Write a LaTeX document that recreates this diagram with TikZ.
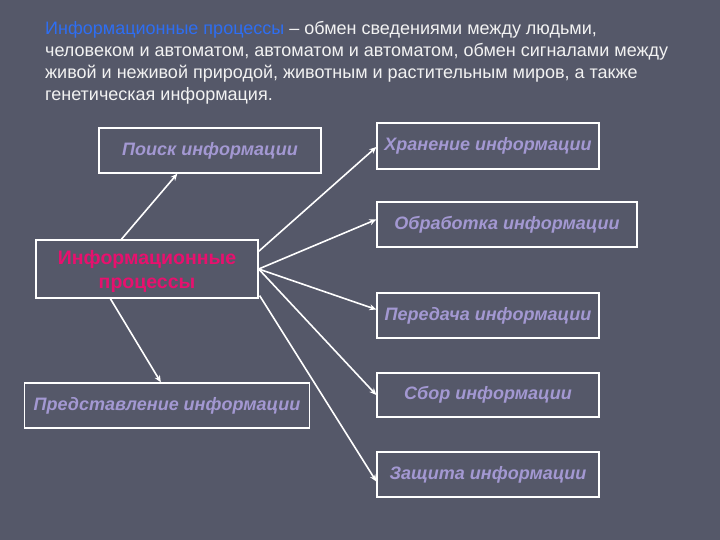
\documentclass[tikz,border=0pt]{standalone}
\usepackage{fontspec}
\setmainfont{Liberation Sans}
\usetikzlibrary{arrows.meta,calc}
\definecolor{bg}{HTML}{555869}
\definecolor{boxtext}{HTML}{A398D2}
\definecolor{titleblue}{HTML}{2E6EF2}
\definecolor{mag}{HTML}{E8106E}
\definecolor{titlewhite}{HTML}{F2F2F2}
\begin{document}
\begin{tikzpicture}[x=1pt,y=-1pt,
  infobox/.style={draw=white, line width=1.3pt, rectangle, inner sep=0pt,
    minimum height=45pt, minimum width=222pt, text=boxtext,
    font=\fontsize{18}{20}\selectfont\bfseries\itshape},
  centerbox/.style={draw=white, line width=1.3pt, rectangle, inner sep=0pt,
    minimum height=58pt, minimum width=222pt},
  centertext/.style={inner sep=0pt, text=mag, align=center,
    font=\fontsize{19.5}{24}\selectfont\bfseries},
  conn/.style={draw=white, line width=1.6pt, -{Stealth[length=7pt,width=6pt]}}]
\fill[bg] (0,0) rectangle (720,540);
\useasboundingbox (0,0) rectangle (720,540);

\node[anchor=north west, inner sep=0pt, align=left, text=titlewhite,
  font=\fontsize{18}{22}\selectfont] (title) at (45,21)
  {\textcolor{titleblue}{Информационные процессы} – обмен сведениями между людьми,\\
   человеком и автоматом, автоматом и автоматом, обмен сигналами между\\
   живой и неживой природой, животным и растительным миров, а также\\
   генетическая информация.};

\node[infobox] (poisk) at (210,150.5) {Поиск информации};
\node[infobox, minimum height=46pt] (khr) at (488,146) {Хранение информации};
\node[infobox, minimum width=260pt] (obr) at (507,224.5) {Обработка информации};
\node[centerbox] (c) at (147,269) {};
\node[centertext] (ct) at (147,271.5) {Информационные\\процессы};
\node[infobox] (per) at (488,315.5) {Передача информации};
\node[infobox, minimum height=44pt] (sbor) at (488,395) {Сбор информации};
\node[infobox] (zash) at (488,474.5) {Защита информации};
\node[infobox, minimum width=285pt] (pred) at (167,405.5) {Представление информации};

\draw[conn] ($(c.north west)+(86,0)$) -- ($(poisk.south west)+(79,0)$);
\draw[conn] ($(c.north east)+(0,12)$) -- ($(khr.west)+(0,1)$);
\draw[conn] (c.east) -- ($(obr.west)+(0,-5)$);
\draw[conn] (c.east) -- ($(per.west)+(0,-6)$);
\draw[conn] (c.east) -- (sbor.west);
\draw[conn] ($(c.south east)+(1,-3)$) -- ($(zash.west)+(0,7)$);
\draw[conn] ($(c.south west)+(75,0)$) -- ($(pred.north west)+(137,0)$);
\end{tikzpicture}
\end{document}
